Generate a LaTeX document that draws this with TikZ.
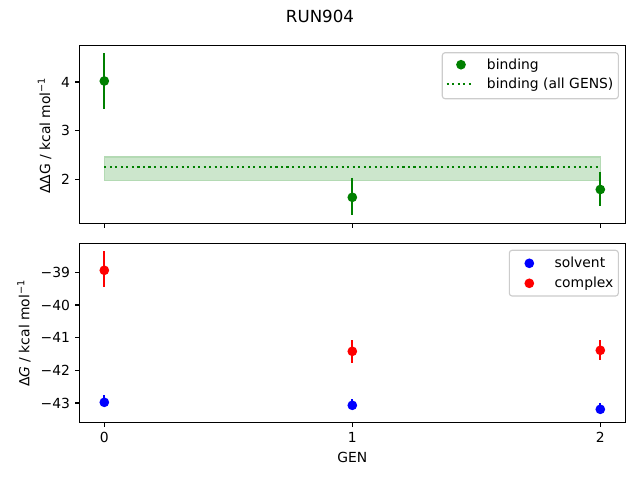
\documentclass[tikz,border=0pt]{standalone}
\usepackage{fontspec}
\setmainfont{DejaVu Sans}
\definecolor{mplgreen}{RGB}{0,128,0}
\definecolor{bandfill}{RGB}{204,230,204}
\definecolor{bandedge}{RGB}{180,218,180}
\definecolor{legedge}{RGB}{204,204,204}
\begin{document}
\begin{tikzpicture}[x=0.72pt,y=-0.72pt,
  axisframe/.style={draw=black,line width=0.8pt},
  tickmark/.style={draw=black,line width=0.8pt},
  ticklab/.style={font=\fontsize{10}{12}\selectfont,inner sep=0pt},
  ebar/.style={line width=1.5pt},
  dotmark/.style={circle,inner sep=0pt,minimum size=7pt,fill=#1},
  legbox/.style={draw=legedge,line width=0.8pt,fill=white,fill opacity=0.8,rounded corners=2pt},
  legtext/.style={font=\fontsize{10}{12}\selectfont,inner sep=0pt,anchor=base west},
]
\useasboundingbox (0,0) rectangle (640,480);
\fill[white] (0,0) rectangle (640,480);

% title
\node[font=\fontsize{12}{14}\selectfont,inner sep=0pt,anchor=base] (title) at (320,22.8) {RUN904};

% ===== top axes =====
\fill[bandfill] (104.3,157) rectangle (600.3,180.7);
\draw[bandedge,line width=1pt] (104.3,157) rectangle (600.3,180.7);
\coordinate (dl0) at (104.3,167.3);
\coordinate (dl1) at (600.3,167.3);
\draw[mplgreen,line width=1.5pt,dash pattern=on 1.5pt off 2.475pt] (dl0) -- (dl1);

% error bars top
\coordinate (t0a) at (104.3,53.3); \coordinate (t0b) at (104.3,109.2);
\coordinate (t1a) at (352.3,177.8); \coordinate (t1b) at (352.3,214.8);
\coordinate (t2a) at (600.3,172.0); \coordinate (t2b) at (600.3,206.1);
\draw[ebar,mplgreen] (t0a) -- (t0b);
\draw[ebar,mplgreen] (t1a) -- (t1b);
\draw[ebar,mplgreen] (t2a) -- (t2b);
\node[dotmark=mplgreen] (g0) at (104.3,81.0) {};
\node[dotmark=mplgreen] (g1) at (352.3,197.3) {};
\node[dotmark=mplgreen] (g2) at (600.3,189.5) {};

% top legend
\draw[legbox] (442.3,52.7) rectangle (618.3,98.7);
\node[dotmark=mplgreen] (lg1) at (461,64.7) {};
\node[legtext] (lt1) at (486.7,69) {binding};
\coordinate (ld0) at (446.7,84); \coordinate (ld1) at (474.3,84);
\draw[mplgreen,line width=1.5pt,dash pattern=on 1.5pt off 2.475pt] (ld0) -- (ld1);
\node[legtext] (lt2) at (486.7,88.5) {binding (all GENS)};

% top frame and ticks
\draw[axisframe] (79.5,45.3) rectangle (625.3,223.3);
\foreach \yy/\lab in {82.0/4,130.65/3,179.3/2}{
  \draw[tickmark] (79.5,\yy) -- (74.6,\yy);
  \node[ticklab,anchor=base east] at (70.3,\yy+5.05) {\lab};
}
\foreach \xx in {104.3,352.3,600.3}{
  \draw[tickmark] (\xx,223.3) -- (\xx,228.2);
}
\node[font=\fontsize{10}{12}\selectfont,inner sep=0pt,anchor=base,rotate=90] (ylab1) at (50,135.5) {ΔΔG / kcal mol\textsuperscript{−1}};

% ===== bottom axes =====
\coordinate (r0a) at (104.3,251); \coordinate (r0b) at (104.3,287.3);
\coordinate (r1a) at (352.3,340); \coordinate (r1b) at (352.3,362.7);
\coordinate (r2a) at (600.3,340); \coordinate (r2b) at (600.3,359.7);
\coordinate (b0a) at (104.3,395); \coordinate (b0b) at (104.3,404);
\coordinate (b1a) at (352.3,399); \coordinate (b1b) at (352.3,407);
\coordinate (b2a) at (600.3,403); \coordinate (b2b) at (600.3,410);
\draw[ebar,blue] (b0a) -- (b0b);
\draw[ebar,blue] (b1a) -- (b1b);
\draw[ebar,blue] (b2a) -- (b2b);
\draw[ebar,red] (r0a) -- (r0b);
\draw[ebar,red] (r1a) -- (r1b);
\draw[ebar,red] (r2a) -- (r2b);
\node[dotmark=blue] (s0) at (104.3,402.3) {};
\node[dotmark=blue] (s1) at (352.3,405.3) {};
\node[dotmark=blue] (s2) at (600.3,409.3) {};
\node[dotmark=red] (c0) at (104.3,270.3) {};
\node[dotmark=red] (c1) at (352.3,351.3) {};
\node[dotmark=red] (c2) at (600.3,350.3) {};

% bottom legend
\draw[legbox] (509.3,250.3) rectangle (618.3,296);
\node[dotmark=blue] (lb1) at (529.3,263.3) {};
\node[legtext] (lt3) at (554.3,267.3) {solvent};
\node[dotmark=red] (lb2) at (529.3,283.3) {};
\node[legtext] (lt4) at (554.3,287.3) {complex};

% bottom frame and ticks
\draw[axisframe] (79.5,243.7) rectangle (625.3,422.3);
\foreach \yy/\lab in {272.3/39,305.0/40,337.7/41,370.3/42,403.0/43}{
  \draw[tickmark] (79.5,\yy) -- (74.6,\yy);
  \node[ticklab,anchor=base east] at (70.3,\yy+5.05) {−\lab};
}
\foreach \xx/\lab in {104.3/0,352.3/1,600.3/2}{
  \draw[tickmark] (\xx,422.3) -- (\xx,427.2);
  \node[ticklab,anchor=base] at (\xx,442.4) {\lab};
}
\node[font=\fontsize{10}{12}\selectfont,inner sep=0pt,anchor=base] (xlab) at (352.3,462) {GEN};
\node[font=\fontsize{10}{12}\selectfont,inner sep=0pt,anchor=base,rotate=90] (ylab2) at (29.3,333.3) {Δ\textit{G} / kcal mol\textsuperscript{−1}};
\end{tikzpicture}
\end{document}
